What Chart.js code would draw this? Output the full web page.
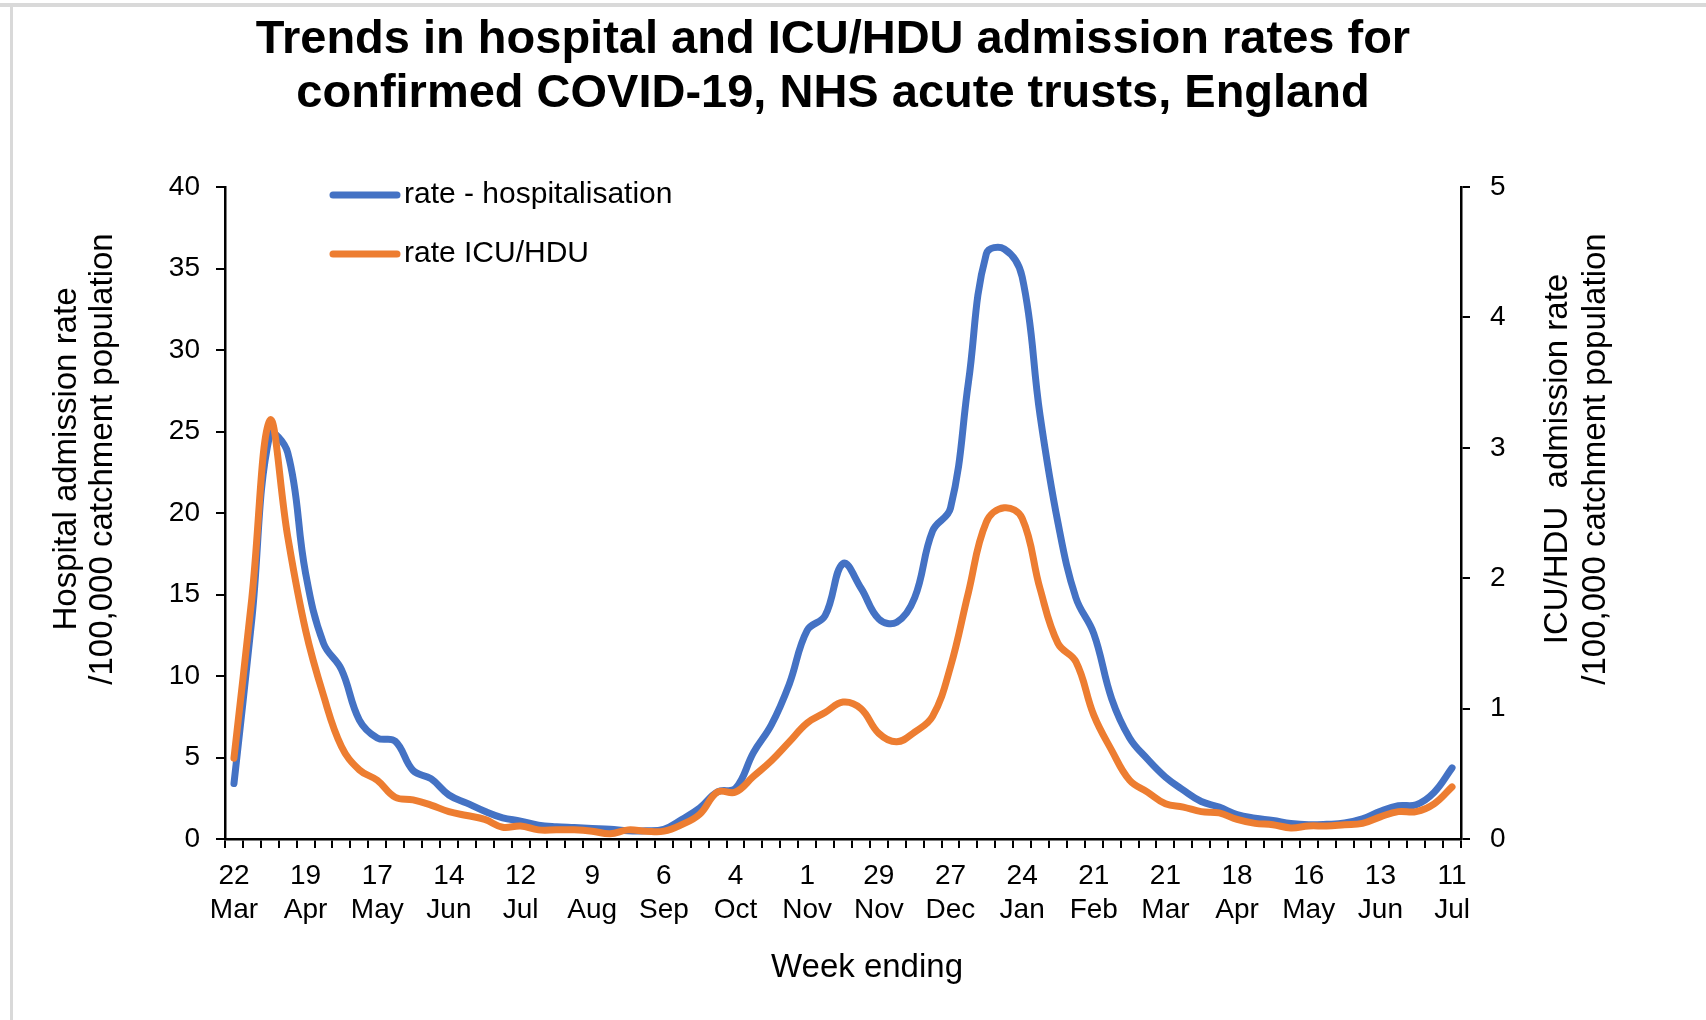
<!DOCTYPE html>
<html>
<head>
<meta charset="utf-8">
<title>Hospital and ICU/HDU admission rates</title>
<script src="https://cdn.jsdelivr.net/npm/chart.js@4.4.1/dist/chart.umd.min.js"></script>
<style>
  html, body { margin:0; padding:0; background:#fff; }
</style>
</head>
<body>
<canvas id="chart" width="1706" height="1020"></canvas>
<script>
// week ending, one label every 4 weeks (22 Mar 2020 .. 11 Jul 2021)
const tickDays = ['22','19','17','14','12','9','6','4','1','29','27','24','21','21','18','16','13','11']
const tickMonths = ['Mar','Apr','May','Jun','Jul','Aug','Sep','Oct','Nov','Nov','Dec','Jan','Feb','Mar','Apr','May','Jun','Jul']

// weekly rates per 100,000 catchment population
const hospRate = [3.4,13.5,24.8,23.7,16.3,12.0,10.4,7.3,6.2,6.0,
  4.2,3.7,2.7,2.2,1.7,1.3,1.1,0.85,0.75,0.7,
  0.65,0.6,0.5,0.5,0.6,1.2,1.9,2.9,3.1,5.3,
  7.0,9.5,12.8,13.7,16.9,15.4,13.5,13.3,14.8,18.9,
  20.3,28.0,35.9,36.2,34.5,26.0,19.4,14.8,12.6,8.6,
  6.2,4.9,3.8,3.0,2.3,1.96,1.5,1.28,1.14,0.95,
  0.87,0.9,0.98,1.23,1.7,2.04,2.1,2.86,4.36]
const icuRate = [0.62,1.85,3.21,2.32,1.6,1.1,0.71,0.53,0.45,0.32,
  0.30,0.26,0.21,0.18,0.15,0.09,0.10,0.07,0.07,0.07,
  0.06,0.04,0.07,0.06,0.06,0.11,0.19,0.36,0.36,0.48,
  0.60,0.745,0.89,0.97,1.05,1.0,0.81,0.745,0.82,0.94,
  1.32,1.89,2.43,2.54,2.46,1.92,1.5,1.36,0.95,0.68,
  0.45,0.36,0.27,0.245,0.21,0.20,0.15,0.12,0.11,0.085,
  0.10,0.10,0.11,0.12,0.17,0.21,0.21,0.27,0.40]

const leftTicks = [0,5,10,15,20,25,30,35,40]
const rightTicks = [0,1,2,3,4,5]

const titleLines = ['Trends in hospital and ICU/HDU admission rates for', 'confirmed COVID-19, NHS acute trusts, England']
const leftTitle = ['Hospital admission rate', '/100,000 catchment population']
const rightTitle = ['ICU/HDU  admission rate', '/100,000 catchment population']
const xTitle = 'Week ending'
const seriesNames = ['rate - hospitalisation', 'rate ICU/HDU']

const FONT = '"Liberation Sans", Arial, sans-serif'
const BLUE = '#4472C4'
const ORANGE = '#ED7D31'

const weeks = hospRate.map((v, i) => i % 4 === 0 ? [tickDays[i / 4], tickMonths[i / 4]] : '')

// rotated text, lines stacked left to right
function vText(ctx, lines, x, y, gap) {
  lines.forEach((t, i) => {
    ctx.save()
    ctx.translate(x + i * gap, y)
    ctx.rotate(-Math.PI / 2)
    ctx.fillText(t, 0, 0)
    ctx.restore()
  })
}

const decor = {
  id: 'decor',
  beforeDraw(chart) {
    const ctx = chart.ctx
    ctx.save()
    ctx.fillStyle = '#fff'
    ctx.fillRect(0, 0, chart.width, chart.height)
    ctx.fillStyle = '#d9d9d9'
    ctx.fillRect(0, 3, chart.width, 4)
    ctx.fillRect(10, 3, 3, chart.height)
    ctx.restore()
  },
  afterDraw(chart) {
    const ctx = chart.ctx
    const a = chart.chartArea
    ctx.save()
    ctx.fillStyle = '#000'
    ctx.textAlign = 'center'
    ctx.textBaseline = 'middle'

    ctx.font = 'bold 47px ' + FONT
    titleLines.forEach((t, i) => ctx.fillText(t, 833, 40 + i * 54))

    ctx.font = '33px ' + FONT
    vText(ctx, leftTitle, 67, 459, 36)
    vText(ctx, rightTitle, 1558, 459, 38)
    ctx.fillText(xTitle, 867, 968)

    // legend sits inside the plot
    ctx.textAlign = 'left'
    ctx.font = '30px ' + FONT
    chart.data.datasets.forEach((ds, i) => {
      const y = a.top + 8 + i * 59
      ctx.strokeStyle = ds.borderColor
      ctx.lineWidth = 7
      ctx.lineCap = 'round'
      ctx.beginPath()
      ctx.moveTo(333, y)
      ctx.lineTo(397, y)
      ctx.stroke()
      ctx.fillText(ds.label, 404, y)
    })
    ctx.restore()
  }
}

const axisGrid = { drawOnChartArea: false, drawTicks: true, tickLength: 9, color: '#000', lineWidth: 2 }
const axisBorder = { display: true, color: '#000', width: 2.5 }

new Chart(document.getElementById('chart').getContext('2d'), {
  type: 'line',
  data: {
    labels: weeks,
    datasets: [
      { label: seriesNames[0], data: hospRate, yAxisID: 'y', borderColor: BLUE, order: 1 },
      { label: seriesNames[1], data: icuRate, yAxisID: 'y1', borderColor: ORANGE, order: 0 }
    ].map(d => Object.assign(d, {
      borderWidth: 7, pointRadius: 0, tension: 0.4, fill: false,
      borderCapStyle: 'round', borderJoinStyle: 'round'
    }))
  },
  options: {
    responsive: false,
    devicePixelRatio: 1,
    animation: false,
    layout: { padding: { top: 187, left: 0, right: 0, bottom: 0 } },
    plugins: { legend: { display: false }, title: { display: false }, tooltip: { enabled: false } },
    scales: {
      x: {
        type: 'category',
        offset: true,
        grid: Object.assign({ offset: true }, axisGrid),
        border: axisBorder,
        ticks: { autoSkip: false, maxRotation: 0, minRotation: 0, padding: 11, color: '#000',
          font: { family: FONT, size: 28, lineHeight: 1.22 } },
        afterFit(s) { s.height = 181 }
      },
      y: {
        position: 'left',
        min: 0, max: 40,
        afterBuildTicks(s) { s.ticks = leftTicks.map(v => ({ value: v })) },
        grid: axisGrid,
        border: axisBorder,
        ticks: { padding: 16, color: '#000', font: { family: FONT, size: 28 } },
        afterFit(s) { s.width = 225 }
      },
      y1: {
        position: 'right',
        min: 0, max: 5,
        afterBuildTicks(s) { s.ticks = rightTicks.map(v => ({ value: v })) },
        grid: axisGrid,
        border: axisBorder,
        ticks: { padding: 20, color: '#000', font: { family: FONT, size: 28 } },
        afterFit(s) { s.width = 245 }
      }
    }
  },
  plugins: [decor]
})
</script>
</body>
</html>
